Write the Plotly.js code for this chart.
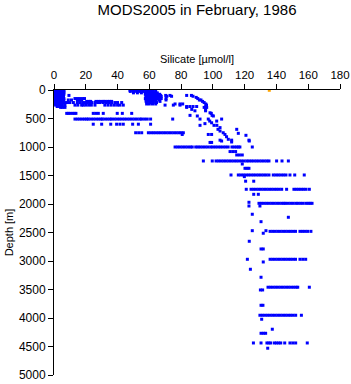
<!DOCTYPE html>
<html>
<head>
<meta charset="utf-8">
<script src="https://cdn.plot.ly/plotly-3.0.1.min.js"></script>
<style>html,body{margin:0;padding:0;background:#fff;}#chart{width:351px;height:384px;}</style>
</head>
<body>
<div id="chart"></div>
<script>
// Depth levels [m] and silicate values [µmol/l] observed at each level
const depthLevels = [5,25,50,75,95,110,130,150,175,200,220,245,265,290,305,340,365,400,410,445,456,510,545,575,590,600,620,660,690,720,750,760,780,795,820,865,880,895,912,920,1000,1080,1140,1245,1298,1374,1491,1520,1600,1742,1830,1970,1988,2035,2180,2233,2310,2468,2480,2513,2654,2789,2970,3017,3145,3285,3460,3508,3777,3952,4022,4197,4268,4438,4530];
const silicateAtLevel = [
 [0.6,2,3.4,4.8,6.2,47.8,49.5,51,52.6,54,55.5,57.5,59,60.5,62],
 [0.6,2,3.4,4.8,6.2,48,50,52,54,56,58,59.5,61,62.5,64],
 [0.6,2,3.4,4.8,6.2,50,52.5,55,57.5,59,60.5,62,63.5,65],
 [0.6,2,3.4,4.8,6.2,57.5,59,60.5,62,63.5,65,66.5],
 [0.6,2,3.4,4.8,6,9.4,58,59.5,61,62.5,64,65.5,67,70.3,73,83.5,86.5],
 [0.6,2,3.4,4.8,5.8,58,59.5,61,62.5,64,65.5,67.5,71,74,87.5],
 [0.6,2,3.4,4.8,6,58,59.5,61,62.5,64,65.5,67,89.5],
 [0.6,2,3.4,4.8,6.2,13.2,14.8,16.5,18,19.2,57.5,59,60.5,62,64,65.5,67.5,70.5,90.5],
 [0.6,2,3.4,4.8,6.2,9,11,14.7,16,17.4,58,59.5,61,62.5,64,66,70.5,91.5,92.5],
 [0.6,2,3.4,5,20.6,22,23.1,26.4,28,29.5,31,32,33.7,35,36.3,58,60,62,64,66.7,93.5],
 [0.6,2,3.8,5.5,7,8.5,10,12.2,14.7,16.3,18,19.5,21,22.5,23.7,25.8,27.5,29,31,33,34.8,36.3,38.4,40,42.6,58.5,60.5,62.5,64.5,94.5],
 [1,2.5,4,58.3,60,62,64,76.2,79.3,81,95.5],
 [1,2.5,3.8,5.3,6.9,13.2,15,17.4,18.4,20,21.8,23.5,25.8,32,34,36,38,40,41.5,43.6,69.9,75.1,79.3,96],
 [2,3.5,83.5,85.5,87.5,89.8,95.5],
 [4.2,5.5,6.9,83.5,94.5,96.1],
 [86.7,95.4],
 [88.7,95.4],
 [98.2],
 [8,9,10,11.5,12.7,13.8,24.7,26.3,27.9,31,39.8,43,48.9,99],
 [85.6,99.5],
 [90.2,100.3],
 [13.2,14.7,16.2,17.7,19.2,20.6,21.6,23.2,24.8,26.4,28,29.6,30.4,32,33.6,35.2,36.3,38,39.6,41.2,42.8,44.4,46,47.6,49.2,50.8,52.4,54.1,55.2,57,58.7,60.8,74.7,91.9,97.1,105.5],
 [98,102.4],
 [99.2],
 [95],
 [24.7,30,35.7,39.4,41.5,43.6,49.5,53.1,60.8],
 [91.9,100.7,102.5],
 [104.5],
 [103.2,115],
 [104.5],
 [51.4,53.3,55.2,59.4,61,62.6,64.2,65.8,67.4,69,70.6,72.2,73.8,75.4,77,78.6,80,81.4,106.5],
 [116],
 [80.7,97.1,99.2,107.6],
 [120.8],
 [108.6],
 [109.7],
 [104.5,111.8,122.7],
 [105.5,122.9],
 [111.8],
 [98.2,99.2],
 [76.2,77.8,79.4,81,82.6,84.2,85.8,87,89.2,90.6,92,93.6,95.2,96.8,98.6,100,101.6,103.2,104.8,106.4,108,109.6,112,113.4,114.8,116,117,124.8],
 [110.8,112.5,114.3],
 [115,116.7,118.5],
 [94,99.6,102,103.6,105.2,106.8,108.4,110,111.6,113.2,114.8,116.4,118,119.6,121.3,122.7,124.3,125.9,127.5,129.1,130.7,132.3,133.9,135.3,140.1,143.5,147.5],
 [118.5],
 [120.2,121.5,122.7],
 [111.4,116,117.6,119.2,120.8,122.4,124,125.6,127.2,128.8,130.4,132,133.6,135.3,138,139.6,141.2,142.8,144.4,146,148.5,151.5,157.5],
 [119.8],
 [120.6,125.7],
 [121,124,125.6,127.2,128.8,130.4,132,133.6,135.2,136.8,138.4,140,141.6,143.3,146.4,151,152.5,154,155.5,157,158.6,160.7],
 [125.7,128.6],
 [122.7],
 [129,130.6,132.2,133.8,135.4,137,138.6,140.2,141.8,143.4,144.7,145.8,147.4,149,150.6,152.3,153.6,155.2,156.8,158.6,160,161.2,162.4],
 [122.7,129.6],
 [124.8],
 [147.5],
 [130.3],
 [124.8,133.4],
 [136,137.6,139.2,140.8,142.4,144,145.6,147.2,148.8,150.4,152,154.8,156.4,158,159.6,161.7],
 [131.7],
 [122.9],
 [130.3,131.7],
 [121.7,136,137.6,139.2,140.8,142.4,144,145.6,147.2,148.8,150.4,152,154.8,156.6,158.4],
 [131.7],
 [123.6],
 [130.3],
 [134.7,136.3,137.9,139.5,141.1,142.7,144.3,145.9,147.5,149.1,150.7,152.3,153.4,160.7],
 [129.9,131.3],
 [130.3,131.5],
 [129.6,131.2,132.8,134.4,136,137.6,139.2,140.8,142.4,144,145.6,147.2,148.8,150.4,152.1,155.7],
 [130.7],
 [137.4],
 [130.3,131.8,133.2],
 [125.5,130.3,134,135.2,136.4,138.7,140,141.4,142.7,145.2,148.5,150.3,152.1,159.4],
 [134.5]
];
// Single highlighted (orange) observation
const highlightSilicate = [135.5];
const highlightDepth = [5];

const xs = [], ys = [];
depthLevels.forEach((d, i) => {
  silicateAtLevel[i].forEach(v => { xs.push(v); ys.push(d); });
});

const font = 'Liberation Sans, Arial, Helvetica, sans-serif';
const traces = [
  {x: xs, y: ys, type: 'scatter', mode: 'markers',
   marker: {symbol: 'square', size: 3, color: '#0000ff', line: {width: 0}}, hoverinfo: 'x+y'},
  {x: highlightSilicate, y: highlightDepth, type: 'scatter', mode: 'markers',
   marker: {symbol: 'square', size: 3, color: '#ffa500', line: {width: 0}}, hoverinfo: 'x+y'}
];

const layout = {
  width: 351, height: 384,
  margin: {l: 54, r: 11, t: 90, b: 9, pad: 0},
  paper_bgcolor: '#ffffff', plot_bgcolor: '#ffffff',
  showlegend: false,
  font: {family: font, color: '#000', size: 11},
  title: {text: 'MODS2005 in February, 1986', font: {family: font, size: 15, color: '#000'},
          x: 0.5, xanchor: 'center', y: 0.975, yanchor: 'middle', xref: 'paper'},
  xaxis: {
    side: 'top', range: [0, 180], dtick: 20, tick0: 0,
    showgrid: false, zeroline: false, showline: true, linecolor: '#000', linewidth: 1,
    ticks: 'outside', ticklen: 5, tickcolor: '#000', tickwidth: 1,
    tickfont: {family: font, size: 11.5, color: '#000'},
    title: {text: 'Silicate [µmol/l]', font: {family: font, size: 11, color: '#000'}, standoff: 3}
  },
  yaxis: {
    range: [5000, 0], dtick: 500, tick0: 0,
    showgrid: false, zeroline: false, showline: true, linecolor: '#000', linewidth: 1,
    ticks: 'outside', ticklen: 5, tickcolor: '#000', tickwidth: 1,
    tickfont: {family: font, size: 12, color: '#000'},
    title: {text: 'Depth [m]', font: {family: font, size: 11, color: '#000'}, standoff: 3}
  }
};

Plotly.newPlot('chart', traces, layout, {displayModeBar: false, staticPlot: true});
</script>
</body>
</html>
